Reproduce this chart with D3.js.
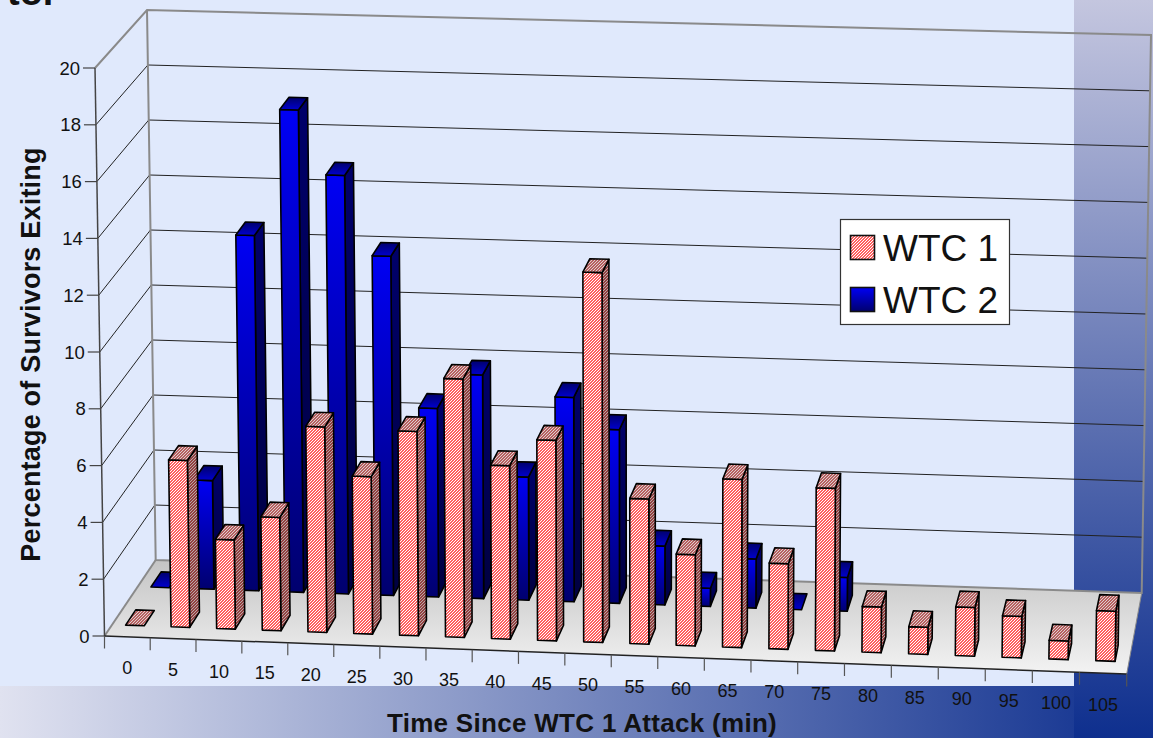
<!DOCTYPE html>
<html>
<head>
<meta charset="utf-8">
<style>
html,body{margin:0;padding:0;background:#E0E9FC;overflow:hidden}
svg{display:block}
text{font-family:"Liberation Sans",Arial,sans-serif;fill:#111}
</style>
<script src="https://cdnjs.cloudflare.com/ajax/libs/d3/7.8.5/d3.min.js"></script>
</head>
<body>
<svg id="c" width="1153" height="738"></svg>
<script>
const categories = [0,5,10,15,20,25,30,35,40,45,50,55,60,65,70,75,80,85,90,95,100,105];
const wtc1 = [0,5.9,3.15,4.0,7.25,5.55,7.2,9.1,6.1,7.05,13.0,5.1,3.2,5.9,3.0,5.7,1.6,0.95,1.7,1.45,0.65,1.75];
const wtc2 = [0,3.9,12.75,17.3,15.0,12.15,6.75,8.0,4.4,7.3,6.2,2.1,0.65,1.75,0,1.2,null,null,null,null,null,null];
const yTicks = [0,2,4,6,8,10,12,14,16,18,20];
const seriesNames = ["WTC 1","WTC 2"];
const yTitle = "Percentage of Survivors Exiting";
const xTitle = "Time Since WTC 1 Attack (min)";

const svg = d3.select("#c");
const defs = svg.append("defs");

// frame of the box: floor corners and the vertical vector at each corner
const FL=[104.5,636], FR=[1126.7,674], BL=[155.7,560], BR=[1141.7,593];
const VFL=[-9.5,-568], VFR=[8,-576], VBL=[-8.7,-550], VBR=[9.3,-558];
const uScale = d3.scaleBand().domain(categories).range([0,1]);
const vScale = d3.scaleLinear().domain([0,20]).range([0,1]);
const lerp=(a,b,t)=>[a[0]+(b[0]-a[0])*t,a[1]+(b[1]-a[1])*t];
function P(u0,val,z){
  const u=u0-0.017*u0*(1-u0); // slight perspective along the x axis
  const f=lerp(lerp(FL,FR,u),lerp(BL,BR,u),z);
  const w=lerp(lerp(VFL,VFR,u),lerp(VBL,VBR,u),z);
  const t=vScale(val);
  return [f[0]+w[0]*t,f[1]+w[1]*t];
}
const poly=pts=>pts.map(p=>p[0].toFixed(2)+","+p[1].toFixed(2)).join(" ");

function grad(id,x1,y1,x2,y2,stops,units){
  const g=defs.append("linearGradient").attr("id",id)
    .attr("x1",x1).attr("y1",y1).attr("x2",x2).attr("y2",y2)
    .attr("gradientUnits",units||"objectBoundingBox");
  stops.forEach(s=>g.append("stop").attr("offset",s[0]).attr("stop-color",s[1]));
}
grad("bgR",0,0,0,1,[[0,"#c4c6df"],[1,"#0e2f8e"]]);
grad("bgB",0,0,1,0,[[0,"#e0e2f0"],[1,"#0e2f8e"]]);
grad("floor",0,560,0,676,[[0,"#c4c4c4"],[1,"#f4f4f4"]],"userSpaceOnUse");
grad("blueF",0,0,0,1,[[0,"#0000f4"],[1,"#00006e"]]);
grad("blueT",0,0,0,1,[[0,"#00006a"],[1,"#0000d0"]]);
grad("blueS",0,0,0,1,[[0,"#00006a"],[1,"#000040"]]);

function hatch(id,bg,fg){
  const p=defs.append("pattern").attr("id",id).attr("patternUnits","userSpaceOnUse")
    .attr("width",3).attr("height",3);
  p.append("rect").attr("width",3).attr("height",3).attr("fill",fg);
  [[2,0],[1,1],[0,2]].forEach(c=>p.append("rect").attr("x",c[0]).attr("y",c[1]).attr("width",1).attr("height",1)
    .attr("fill",bg).attr("shape-rendering","crispEdges"));
}
hatch("redF","#ffffff","#ff6060");
hatch("redT","#ddd0d0","#b86060");
hatch("redS","#b8a8a8","#944040");

// background
svg.append("rect").attr("width",1153).attr("height",738).attr("fill","#E0E9FC");
svg.append("rect").attr("x",0).attr("y",686).attr("width",1153).attr("height",52).attr("fill","url(#bgB)");
svg.append("rect").attr("x",1074).attr("y",0).attr("width",79).attr("height",738).attr("fill","url(#bgR)");

// clipped heading fragment at the top
svg.append("text").attr("x",7).attr("y",5).attr("font-size",38).attr("font-weight","bold").attr("fill","#000").text("tor");

// floor
svg.append("polygon").attr("points",poly([FL,FR,BR,BL])).attr("fill","url(#floor)");

// grid
const grid=svg.append("g");
yTicks.filter(v=>v>0&&v<20).forEach(v=>{
  grid.append("polyline").attr("points",poly([P(0,v,0),P(0,v,1),P(1,v,1)]))
    .attr("fill","none").attr("stroke","#222").attr("stroke-width",1);
});
// walls frame
const gray="#8a8a8a";
svg.append("polyline").attr("points",poly([P(0,20,0),P(0,20,1),P(1,20,1),P(1,0,1),BL,P(0,20,1)]))
  .attr("fill","none").attr("stroke",gray).attr("stroke-width",2);
svg.append("line").attr("x1",BL[0]).attr("y1",BL[1]).attr("x2",FL[0]).attr("y2",FL[1]).attr("stroke",gray).attr("stroke-width",2);
svg.append("line").attr("x1",FR[0]).attr("y1",FR[1]).attr("x2",BR[0]).attr("y2",BR[1]).attr("stroke",gray).attr("stroke-width",1);

// axes
const a=svg.append("g");
a.append("line").attr("x1",P(0,20,0)[0]).attr("y1",P(0,20,0)[1]).attr("x2",FL[0]).attr("y2",FL[1]).attr("stroke","#444").attr("stroke-width",1.5);
a.append("line").attr("x1",FL[0]).attr("y1",FL[1]).attr("x2",FR[0]).attr("y2",FR[1]).attr("stroke","#222").attr("stroke-width",1.5);
yTicks.forEach(v=>{
  const p=P(0,v,0);
  a.append("line").attr("x1",p[0]-12).attr("y1",p[1]).attr("x2",p[0]).attr("y2",p[1]).attr("stroke","#444").attr("stroke-width",1.2);
  a.append("text").attr("x",p[0]-15).attr("y",p[1]).attr("dy","0.36em").attr("text-anchor","end").attr("font-size",18.5).text(v);
});
const step=uScale.step();
d3.range(categories.length+1).forEach(i=>{
  const p=P(i*step,0,0);
  a.append("line").attr("x1",p[0]).attr("y1",p[1]).attr("x2",p[0]).attr("y2",p[1]+12.5).attr("stroke","#555").attr("stroke-width",1.2);
});
categories.forEach(c=>{
  const p=P(uScale(c)+step/2,0,0);
  a.append("text").attr("x",p[0]).attr("y",p[1]+31).attr("dy","0.36em").attr("text-anchor","middle").attr("font-size",18).text(c);
});

// bars
const BW=0.41;
function bars(values,z0,z1,fills){
  const g=svg.append("g");
  categories.forEach((c,i)=>{
    const val=values[i];
    if(val==null) return;
    const cu=uScale(c)+step/2, hw=step*BW/2, l=cu-hw, r=cu+hw;
    const st={stroke:"#000","stroke-width":1.6,"stroke-linejoin":"round"};
    const add=(pts,f)=>{const e=g.append("polygon").attr("points",poly(pts)).attr("fill",f);
      Object.entries(st).forEach(([k,v])=>e.attr(k,v));};
    if(val>0){
      add([P(r,0,z0),P(r,0,z1),P(r,val,z1),P(r,val,z0)],fills.s);
      add([P(l,0,z0),P(r,0,z0),P(r,val,z0),P(l,val,z0)],fills.f);
    }
    add([P(l,val,z0),P(r,val,z0),P(r,val,z1),P(l,val,z1)],fills.t);
  });
}
bars(wtc2,0.65,0.85,{f:"url(#blueF)",t:"url(#blueT)",s:"url(#blueS)"});
bars(wtc1,0.15,0.35,{f:"url(#redF)",t:"url(#redT)",s:"url(#redS)"});

// titles
svg.append("text").attr("transform","translate(40,354.5) rotate(-90)").attr("text-anchor","middle")
  .attr("font-size",27).attr("letter-spacing",0.2).attr("font-weight","bold").attr("fill","#111").text(yTitle);
svg.append("text").attr("x",582).attr("y",732).attr("text-anchor","middle")
  .attr("font-size",26).attr("letter-spacing",0.3).attr("font-weight","bold").text(xTitle);

// legend
const lg=svg.append("g");
lg.append("rect").attr("x",840.5).attr("y",219.5).attr("width",169).attr("height",105)
  .attr("fill","#fff").attr("stroke","#333").attr("stroke-width",1.2);
[["url(#redF)",235.5],["url(#blueF)",287.5]].forEach((d,i)=>{
  lg.append("rect").attr("x",850.5).attr("y",d[1]).attr("width",24).attr("height",24)
    .attr("fill",d[0]).attr("stroke","#111").attr("stroke-width",1.6);
  lg.append("text").attr("x",883).attr("y",d[1]+25).attr("font-size",37).attr("fill","#000").text(seriesNames[i]);
});
</script>
</body>
</html>
